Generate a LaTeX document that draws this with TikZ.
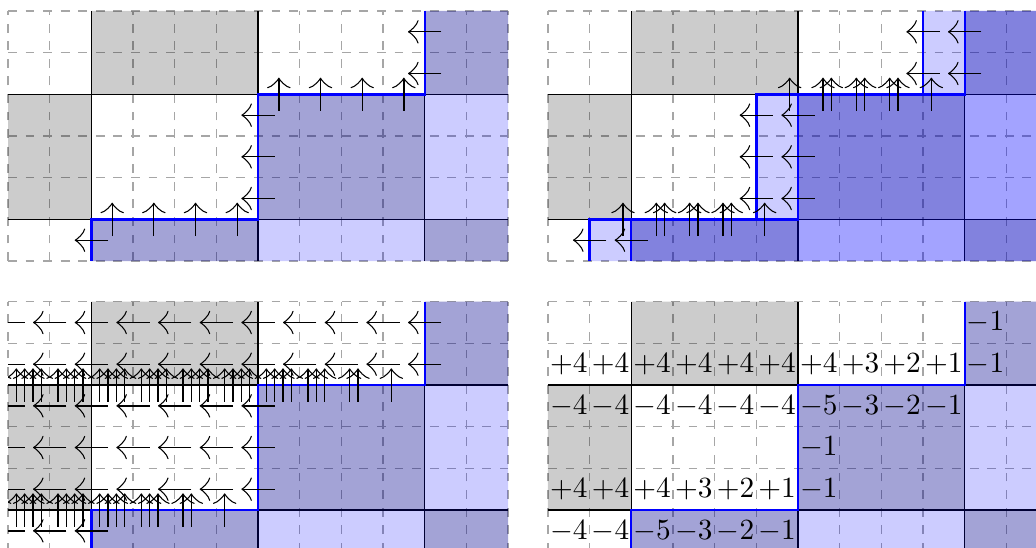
\documentclass[tikz,border=0pt]{standalone}
\usetikzlibrary{arrows.meta}
\tikzset{
  gridminor/.style={draw=black!35, dashed, line width=0.4pt, step=1},
  gridmajor/.style={draw=black, line width=0.4pt},
  grayfill/.style={fill=black, fill opacity=0.2},
  bluefill/.style={fill=blue, fill opacity=0.2},
  stair/.style={draw=blue, thick},
  flow/.style={-{Classical TikZ Rightarrow[length=3.6pt,width=8pt]}, draw=black, line width=0.45pt},
  val/.style={inner sep=0pt},
}
\newcommand\basegrid{%
  \draw[gridminor] (0,0) grid (12,6);
  \draw[gridmajor] (2,0) -- (2,6) (6,0) -- (6,6) (10,0) -- (10,6) (0,1) -- (12,1) (0,4) -- (12,4);
  \fill[grayfill] (2,4) rectangle (6,6) (10,4) rectangle (12,6) (0,1) rectangle (2,4)
    (6,1) rectangle (10,4) (2,0) rectangle (6,1) (10,0) rectangle (12,1);
}
\newcommand\stairfill[1]{%
  \fill[bluefill] ({2-#1},0) -- ({2-#1},1) -- ({6-#1},1) -- ({6-#1},4) -- ({10-#1},4) -- ({10-#1},6) -- (12,6) -- (12,0) -- cycle;
}
\newcommand\stairline[1]{%
  \draw[stair] ({2-#1},0) -- ({2-#1},1) -- ({6-#1},1) -- ({6-#1},4) -- ({10-#1},4) -- ({10-#1},6);
}
\newcommand\flowL[2]{\draw[flow] ({#1+0.4},{#2}) -- ({#1-0.4},{#2});}
\newcommand\flowU[2]{\draw[flow] ({#1},{#2-0.4}) -- ({#1},{#2+0.4});}
\newcommand\shiftflow[1]{%
  \foreach \yy in {5.5,4.5} {\flowL{10-#1}{\yy}}
  \foreach \yy in {3.5,2.5,1.5} {\flowL{6-#1}{\yy}}
  \flowL{2-#1}{0.5}
  \foreach \kk in {1,...,4} {\flowU{6-#1+0.8*\kk}{4}\flowU{2-#1+0.8*\kk}{1}}
}
\begin{document}
\begin{tikzpicture}[x=0.5cm,y=0.5cm]
\useasboundingbox (0,0) rectangle (24.863,-13.151);
\clip (0,0) rectangle (24.863,-13.151);

% top left
\begin{scope}[shift={(0.192,-6.264)}]
  \basegrid
  \stairfill{0}
  \stairline{0}
  \foreach \yy in {5.5,4.5} {\flowL{10}{\yy}}
  \foreach \yy in {3.5,2.5,1.5} {\flowL{6}{\yy}}
  \flowL{2}{0.5}
  \foreach \xx in {6.5,7.5,8.5,9.5} {\flowU{\xx}{4}}
  \foreach \xx in {2.5,3.5,4.5,5.5} {\flowU{\xx}{1}}
\end{scope}

% top right
\begin{scope}[shift={(13.151,-6.264)}]
  \basegrid
  \stairfill{0}
  \stairfill{1}
  \stairline{0}
  \stairline{1}
  \shiftflow{0}
  \shiftflow{1}
\end{scope}

% bottom left
\begin{scope}[shift={(0.192,-13.240)}]
  \basegrid
  \stairfill{0}
  \stairline{0}
  \begin{scope}
    \clip (0,0) rectangle (12,6);
    \foreach \ss in {0,...,10} {\shiftflow{\ss}}
  \end{scope}
\end{scope}

% bottom right
\begin{scope}[shift={(13.151,-13.240)}]
  \basegrid
  \stairfill{0}
  \stairline{0}
  \node[val] (a10) at (10.5,5.5) {$-1$};
  \foreach \v [count=\c from 0] in {+4,+4,+4,+4,+4,+4,+4,+3,+2,+1}
    \node[val] (b\c) at (\c+0.5,4.5) {$\v$};
  \node[val] (b10) at (10.5,4.5) {$-1$};
  \foreach \v [count=\c from 0] in {-4,-4,-4,-4,-4,-4,-5,-3,-2,-1}
    \node[val] (c\c) at (\c+0.5,3.5) {$\v$};
  \node[val] (d6) at (6.5,2.5) {$-1$};
  \foreach \v [count=\c from 0] in {+4,+4,+4,+3,+2,+1,-1}
    \node[val] (e\c) at (\c+0.5,1.5) {$\v$};
  \foreach \v [count=\c from 0] in {-4,-4,-5,-3,-2,-1}
    \node[val] (f\c) at (\c+0.5,0.5) {$\v$};
\end{scope}
\end{tikzpicture}
\end{document}
